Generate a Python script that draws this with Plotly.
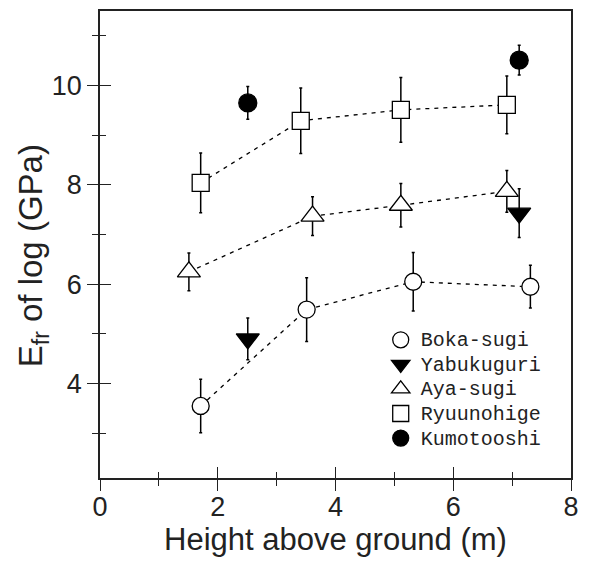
import plotly.graph_objects as go

# ---- data ----
boka_x = [1.71, 3.51, 5.32, 7.31]
boka_y = [3.55, 5.49, 6.05, 5.95]
boka_e = [0.54, 0.64, 0.59, 0.43]

yabu_x = [2.51, 7.12]
yabu_y = [4.90, 7.43]
yabu_e = [0.42, 0.49]

aya_x = [1.51, 3.61, 5.11, 6.91]
aya_y = [6.25, 7.37, 7.59, 7.87]
aya_e = [0.38, 0.39, 0.44, 0.42]

ryu_x = [1.71, 3.41, 5.11, 6.91]
ryu_y = [8.04, 9.29, 9.51, 9.61]
ryu_e = [0.60, 0.66, 0.65, 0.58]

kumo_x = [2.51, 7.12]
kumo_y = [9.65, 10.51]
kumo_e = [0.33, 0.30]

x_range = [0, 8]
y_range = [2.1, 11.5]
x_tickvals = [0, 2, 4, 6, 8]
y_tickvals = [4, 6, 8, 10]

fig = go.Figure()

# dashed connecting lines (not shown in legend)
for x, y in [(boka_x, boka_y), (aya_x, aya_y), (ryu_x, ryu_y)]:
    fig.add_trace(go.Scatter(x=x, y=y, mode="lines", showlegend=False, hoverinfo="skip",
                             line=dict(color="black", width=1.3, dash="4px,5px")))

def add_series(name, x, y, e, symbol, size, filled):
    fig.add_trace(go.Scatter(
        x=x, y=y,
        name='<span style="font-size:20px">' + name + '</span>',
        mode="markers",
        marker=dict(symbol=symbol, size=size,
                    color="black" if filled else "white",
                    line=dict(color="black", width=1.3)),
        error_y=dict(type="data", array=e, visible=True,
                     color="black", thickness=1.5, width=1.5),
    ))

add_series("Boka-sugi", boka_x, boka_y, boka_e, "circle", 17, False)
add_series("Yabukuguri", yabu_x, yabu_y, yabu_e, "triangle-down", 20, True)
add_series("Aya-sugi", aya_x, aya_y, aya_e, "triangle-up", 20, False)
add_series("Ryuunohige", ryu_x, ryu_y, ryu_e, "square", 17, False)
add_series("Kumotooshi", kumo_x, kumo_y, kumo_e, "circle", 18, True)

# invisible trace on the overlay axes (inside ticks)
fig.add_trace(go.Scatter(x=[None], y=[None], xaxis="x2", yaxis="y2",
                         showlegend=False, hoverinfo="skip"))

sans = "Liberation Sans, Arial, sans-serif"
tickfont = dict(family=sans, size=27, color="#222")

fig.update_layout(
    width=584, height=554,
    margin=dict(l=92, r=21, t=1, b=84),
    plot_bgcolor="white", paper_bgcolor="white",
    showlegend=True,
    legend=dict(x=0.596, y=0.333, xanchor="left", yanchor="top",
                bgcolor="rgba(0,0,0,0)", borderwidth=0,
                font=dict(family="Liberation Mono, monospace", size=16.6, color="#222"),
                itemwidth=30, tracegroupgap=0),
    xaxis=dict(range=x_range, tickvals=x_tickvals, showgrid=False, zeroline=False,
               showline=True, linecolor="#222", linewidth=1.5, mirror=True,
               ticks="outside", ticklen=11, tickwidth=1.3, tickcolor="#222",
               minor=dict(dtick=1, ticks="outside", ticklen=6, tickwidth=1.3, tickcolor="#222"),
               tickfont=tickfont, ticklabelstandoff=-7,
               title=dict(text="Height above ground (m)",
                          font=dict(family=sans, size=31, color="#222"),
                          standoff=6)),
    yaxis=dict(range=y_range, tickvals=y_tickvals, showgrid=False, zeroline=False,
               showline=True, linecolor="#222", linewidth=1.5, mirror=True,
               ticks="outside", ticklen=11, tickwidth=1.3, tickcolor="#222",
               minor=dict(dtick=1, tick0=1, ticks="outside", ticklen=6, tickwidth=1.3, tickcolor="#222"),
               tickfont=tickfont),
    xaxis2=dict(range=x_range, overlaying="x", anchor="y2", tickvals=x_tickvals,
                showgrid=False, zeroline=False, showticklabels=False, showline=False,
                ticks="inside", ticklen=11, tickwidth=1.3, tickcolor="#222",
                minor=dict(dtick=1, ticks="inside", ticklen=6, tickwidth=1.3, tickcolor="#222")),
    yaxis2=dict(range=y_range, overlaying="y", anchor="x2", tickvals=y_tickvals,
                showgrid=False, zeroline=False, showticklabels=False, showline=False,
                ticks="inside", ticklen=11, tickwidth=1.3, tickcolor="#222",
                minor=dict(dtick=1, tick0=1, ticks="inside", ticklen=6, tickwidth=1.3, tickcolor="#222")),
    annotations=[dict(text="E<sub>fr</sub> of log (GPa)", textangle=-90,
                      xref="paper", yref="paper", x=-0.142, y=0.475,
                      xanchor="center", yanchor="middle", showarrow=False,
                      font=dict(family=sans, size=33, color="#222"))],
)

fig.write_html("out.html")
